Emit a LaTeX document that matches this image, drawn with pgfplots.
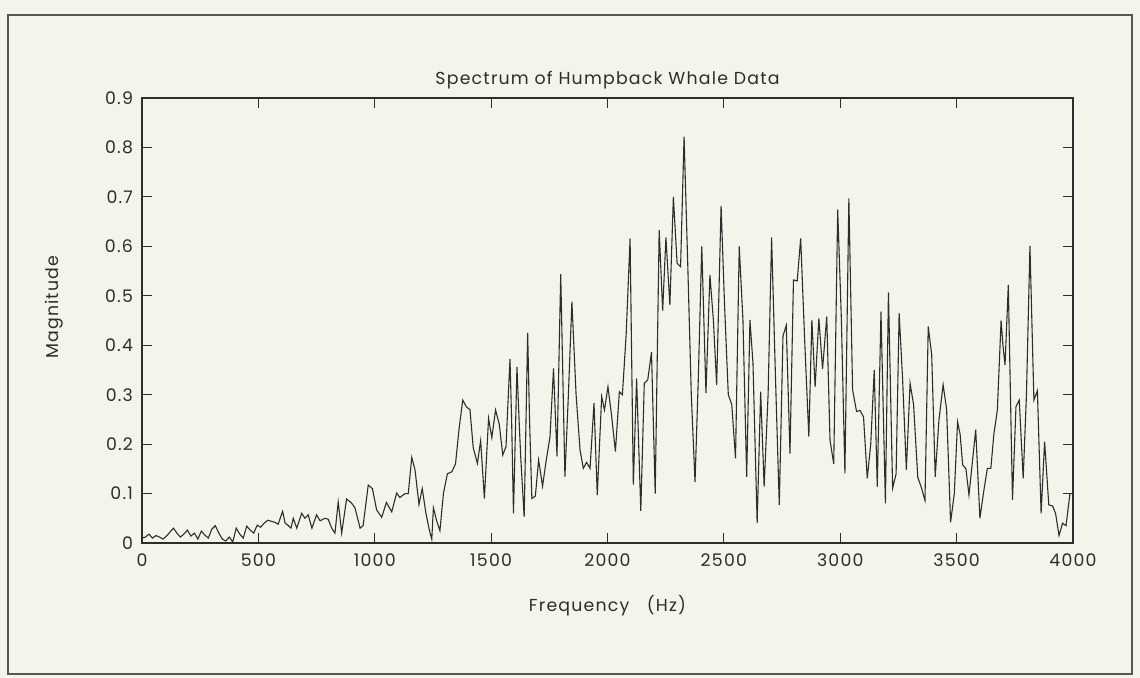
\documentclass[border=0pt]{standalone}
\usepackage{fontspec}
\setmainfont{Poppins}[LetterSpace=7]
\usepackage{pgfplots}
\pgfplotsset{compat=1.18}
\definecolor{bg}{RGB}{245,244,235}
\definecolor{ln}{RGB}{45,45,45}
\begin{document}
\begin{tikzpicture}
\useasboundingbox (0,0) rectangle (570bp,339bp);
\fill[bg] (0,0) rectangle (570bp,339bp);
\draw[ln!80, line width=0.6bp] (4bp,2bp) rectangle (566bp,331.5bp);
\begin{axis}[
  at={(71bp,67.5bp)}, anchor=south west, scale only axis,
  width=465.5bp, height=222.5bp,
  xmin=0, xmax=4000, ymin=0, ymax=0.9,
  xtick={0,500,1000,1500,2000,2500,3000,3500,4000},
  ytick={0,0.1,0.2,0.3,0.4,0.5,0.6,0.7,0.8,0.9},
  yticklabels={0,0.1,0.2,0.3,0.4,0.5,0.6,0.7,0.8,0.9},
  scaled ticks=false,
  /pgf/number format/1000 sep={},
  /pgf/number format/assume math mode=true,
  tick align=inside, major tick length=5bp,
  xtick pos=both, ytick pos=both,
  tick style={ln, line width=0.5bp},
  axis line style={ln, line width=0.6bp},
  ticklabel style={font=\fontsize{8.7}{10}\selectfont, text=ln},
  xticklabel style={yshift=-2bp},
  yticklabel style={xshift=-1bp},
  axis background/.style={fill=bg},
  clip=false,
]
\addplot[ln, line width=0.55bp, mark=none] table {
0 0.010
15 0.012
30 0.018
45 0.010
60 0.015
75 0.012
90 0.008
105 0.014
120 0.022
135 0.030
150 0.020
165 0.012
180 0.018
195 0.026
210 0.014
225 0.020
240 0.008
255 0.024
270 0.016
285 0.010
300 0.028
315 0.035
330 0.020
345 0.008
360 0.004
375 0.012
390 0.002
405 0.030
420 0.018
435 0.010
450 0.034
465 0.026
480 0.020
495 0.036
510 0.032
525 0.040
540 0.046
555 0.044
570 0.042
585 0.038
604 0.064
615 0.040
627 0.036
640 0.030
650 0.050
665 0.030
686 0.060
700 0.050
714 0.057
730 0.030
750 0.057
765 0.045
786 0.050
800 0.048
815 0.030
829 0.020
843 0.083
858 0.020
879 0.089
900 0.081
915 0.071
937 0.030
950 0.035
972 0.117
990 0.110
1008 0.067
1030 0.052
1050 0.082
1073 0.063
1094 0.101
1108 0.092
1130 0.100
1144 0.100
1159 0.173
1173 0.148
1190 0.078
1204 0.110
1220 0.060
1235 0.025
1245 0.008
1252 0.071
1266 0.045
1280 0.025
1295 0.100
1312 0.140
1331 0.144
1347 0.160
1362 0.230
1378 0.289
1394 0.275
1409 0.270
1423 0.193
1441 0.161
1455 0.207
1471 0.090
1489 0.252
1503 0.213
1519 0.269
1535 0.240
1550 0.178
1564 0.195
1572 0.280
1581 0.372
1588 0.250
1596 0.060
1611 0.356
1620 0.250
1627 0.175
1642 0.053
1657 0.425
1665 0.250
1675 0.090
1690 0.095
1704 0.168
1721 0.115
1737 0.168
1753 0.215
1768 0.353
1783 0.175
1799 0.544
1817 0.134
1832 0.300
1847 0.488
1865 0.300
1882 0.188
1896 0.151
1910 0.163
1925 0.151
1942 0.283
1956 0.097
1975 0.296
1987 0.269
2002 0.316
2017 0.260
2034 0.185
2051 0.306
2064 0.300
2080 0.420
2097 0.616
2111 0.118
2125 0.333
2143 0.065
2158 0.323
2173 0.330
2189 0.386
2205 0.100
2222 0.633
2237 0.470
2251 0.618
2268 0.481
2283 0.700
2299 0.566
2314 0.559
2329 0.822
2345 0.560
2360 0.300
2376 0.123
2390 0.330
2405 0.600
2423 0.303
2440 0.542
2455 0.450
2469 0.320
2488 0.682
2503 0.480
2519 0.300
2534 0.280
2550 0.171
2566 0.600
2582 0.450
2598 0.134
2612 0.451
2625 0.364
2643 0.040
2658 0.306
2673 0.114
2690 0.300
2705 0.618
2722 0.330
2738 0.077
2754 0.419
2768 0.440
2784 0.181
2799 0.532
2815 0.530
2830 0.616
2848 0.400
2865 0.215
2878 0.451
2892 0.316
2908 0.454
2924 0.352
2942 0.458
2956 0.208
2972 0.160
2989 0.674
3005 0.450
3020 0.141
3037 0.697
3053 0.310
3070 0.266
3085 0.268
3100 0.255
3116 0.131
3131 0.200
3146 0.350
3159 0.114
3175 0.468
3194 0.080
3207 0.507
3225 0.111
3240 0.140
3253 0.465
3268 0.330
3284 0.148
3300 0.323
3315 0.280
3333 0.133
3350 0.110
3364 0.086
3378 0.438
3393 0.380
3408 0.134
3424 0.249
3442 0.320
3457 0.270
3474 0.042
3490 0.100
3504 0.245
3515 0.220
3526 0.158
3540 0.150
3553 0.097
3582 0.229
3600 0.050
3615 0.100
3632 0.151
3647 0.151
3660 0.220
3675 0.269
3691 0.450
3699 0.400
3708 0.360
3722 0.522
3740 0.087
3755 0.276
3769 0.289
3786 0.131
3800 0.300
3815 0.601
3832 0.289
3847 0.308
3863 0.060
3878 0.205
3896 0.077
3912 0.075
3925 0.060
3940 0.015
3955 0.040
3970 0.035
3987 0.100
4000 0.100
};
\node[font=\fontsize{8.7}{10}\selectfont, text=ln] at (axis description cs:0.5,1.04) {Spectrum of Humpback Whale Data};
\node[font=\fontsize{8.7}{10}\selectfont, text=ln] at (axis description cs:0.5,-0.14) {Frequency\quad(Hz)};
\node[font=\fontsize{8.7}{10}\selectfont, text=ln, rotate=90] at (axis description cs:-0.094,0.53) {Magnitude};
\end{axis}
\end{tikzpicture}
\end{document}
